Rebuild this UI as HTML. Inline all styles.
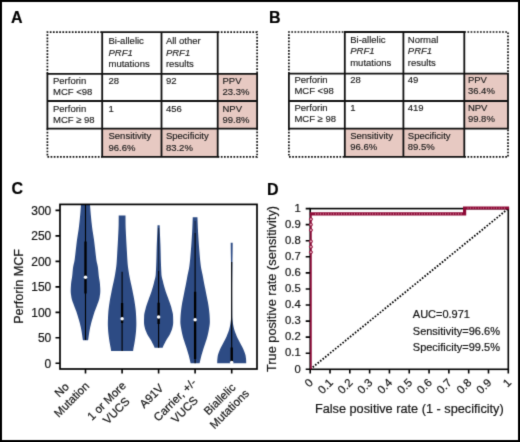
<!DOCTYPE html>
<html><head><meta charset="utf-8"><title>figure</title><style>
html,body{margin:0;padding:0;background:#fff;width:520px;height:442px;overflow:hidden;}
svg{display:block;}
text{font-family:"Liberation Sans",sans-serif;stroke:#1a1a1a;stroke-width:0.2px;}
</style></head><body>
<svg width="520" height="442" viewBox="0 0 520 442">
<defs><filter id="soft" color-interpolation-filters="sRGB" filterUnits="userSpaceOnUse" x="0" y="0" width="520" height="442"><feConvolveMatrix order="3" kernelMatrix="1 6 1 6 36 6 1 6 1" edgeMode="duplicate"/></filter></defs>
<rect x="0" y="0" width="520" height="442" fill="#fff"/>
<g filter="url(#soft)">
<rect x="0" y="0" width="520" height="442" fill="#fff"/>
<rect x="1" y="1" width="518" height="440" fill="none" stroke="#000" stroke-width="2"/>
<text x="11" y="22.6" font-size="16" font-weight="bold" fill="#000">A</text>
<text x="269" y="22.6" font-size="16" font-weight="bold" fill="#000">B</text>
<text x="11.5" y="194.3" font-size="16" font-weight="bold" fill="#000">C</text>
<text x="266.9" y="194.5" font-size="16" font-weight="bold" fill="#000">D</text>
<rect x="217.7" y="73.8" width="39.400000000000034" height="54.8" fill="#e7c9c2"/>
<rect x="102.2" y="128.6" width="115.49999999999999" height="28.30000000000001" fill="#e7c9c2"/>
<path d="M47.4 73.8 V32.1 H102.2" stroke="#111" stroke-width="1.7" stroke-dasharray="1.7 1.45" fill="none"/>
<path d="M217.7 32.1 H257.1 V73.8" stroke="#111" stroke-width="1.7" stroke-dasharray="1.7 1.45" fill="none"/>
<path d="M47.4 128.6 V156.9 H102.2" stroke="#111" stroke-width="1.7" stroke-dasharray="1.7 1.45" fill="none"/>
<path d="M217.7 156.9 H257.1 V128.6" stroke="#111" stroke-width="1.7" stroke-dasharray="1.7 1.45" fill="none"/>
<path d="M102.2 32.1 H217.7 M47.4 73.8 H257.1 M47.4 101.0 H257.1 M47.4 128.6 H257.1 M102.2 156.9 H217.7 M47.4 73.8 V128.6 M102.2 32.1 V156.9 M161.5 32.1 V156.9 M217.7 32.1 V156.9 M257.1 73.8 V128.6" stroke="#111" stroke-width="1.8" fill="none" stroke-linecap="square"/>
<text x="108.50" y="43.90" font-size="9.5" fill="#1c1c1c" style="stroke-width:0.15px">Bi-allelic</text>
<text x="108.50" y="55.50" font-size="9.5" font-style="italic" fill="#1c1c1c" style="stroke-width:0.15px">PRF1</text>
<text x="108.50" y="66.90" font-size="9.5" fill="#1c1c1c" style="stroke-width:0.15px">mutations</text>
<text x="165.90" y="43.90" font-size="9.5" fill="#1c1c1c" style="stroke-width:0.15px">All other</text>
<text x="165.90" y="55.50" font-size="9.5" font-style="italic" fill="#1c1c1c" style="stroke-width:0.15px">PRF1</text>
<text x="165.90" y="66.90" font-size="9.5" fill="#1c1c1c" style="stroke-width:0.15px">results</text>
<text x="53.00" y="83.70" font-size="9.5" fill="#1c1c1c" style="stroke-width:0.15px">Perforin</text>
<text x="53.00" y="95.00" font-size="9.5" fill="#1c1c1c" style="stroke-width:0.15px">MCF &lt;98</text>
<text x="108.50" y="83.70" font-size="9.5" fill="#1c1c1c" style="stroke-width:0.15px">28</text>
<text x="165.90" y="83.70" font-size="9.5" fill="#1c1c1c" style="stroke-width:0.15px">92</text>
<text x="222.50" y="83.70" font-size="9.5" fill="#1c1c1c" style="stroke-width:0.15px">PPV</text>
<text x="222.50" y="95.00" font-size="9.5" fill="#1c1c1c" style="stroke-width:0.15px">23.3%</text>
<text x="53.00" y="111.60" font-size="9.5" fill="#1c1c1c" style="stroke-width:0.15px">Perforin</text>
<text x="53.00" y="122.90" font-size="9.5" fill="#1c1c1c" style="stroke-width:0.15px">MCF ≥ 98</text>
<text x="108.50" y="111.60" font-size="9.5" fill="#1c1c1c" style="stroke-width:0.15px">1</text>
<text x="165.90" y="111.60" font-size="9.5" fill="#1c1c1c" style="stroke-width:0.15px">456</text>
<text x="222.50" y="111.60" font-size="9.5" fill="#1c1c1c" style="stroke-width:0.15px">NPV</text>
<text x="222.50" y="122.90" font-size="9.5" fill="#1c1c1c" style="stroke-width:0.15px">99.8%</text>
<text x="108.50" y="139.40" font-size="9.5" fill="#1c1c1c" style="stroke-width:0.15px">Sensitivity</text>
<text x="108.50" y="150.60" font-size="9.5" fill="#1c1c1c" style="stroke-width:0.15px">96.6%</text>
<text x="165.90" y="139.40" font-size="9.5" fill="#1c1c1c" style="stroke-width:0.15px">Specificity</text>
<text x="165.90" y="150.60" font-size="9.5" fill="#1c1c1c" style="stroke-width:0.15px">83.2%</text>
<rect x="464.3" y="73.7" width="43.69999999999999" height="54.999999999999986" fill="#e7c9c2"/>
<rect x="344.8" y="128.7" width="119.5" height="28.200000000000017" fill="#e7c9c2"/>
<path d="M288.9 73.7 V32.0 H344.8" stroke="#111" stroke-width="1.7" stroke-dasharray="1.7 1.45" fill="none"/>
<path d="M464.3 32.0 H508.0 V73.7" stroke="#111" stroke-width="1.7" stroke-dasharray="1.7 1.45" fill="none"/>
<path d="M288.9 128.7 V156.9 H344.8" stroke="#111" stroke-width="1.7" stroke-dasharray="1.7 1.45" fill="none"/>
<path d="M464.3 156.9 H508.0 V128.7" stroke="#111" stroke-width="1.7" stroke-dasharray="1.7 1.45" fill="none"/>
<path d="M344.8 32.0 H464.3 M288.9 73.7 H508.0 M288.9 101.0 H508.0 M288.9 128.7 H508.0 M344.8 156.9 H464.3 M288.9 73.7 V128.7 M344.8 32.0 V156.9 M403.4 32.0 V156.9 M464.3 32.0 V156.9 M508.0 73.7 V128.7" stroke="#111" stroke-width="1.8" fill="none" stroke-linecap="square"/>
<text x="350.20" y="43.10" font-size="9.5" fill="#1c1c1c" style="stroke-width:0.15px">Bi-allelic</text>
<text x="350.20" y="54.40" font-size="9.5" font-style="italic" fill="#1c1c1c" style="stroke-width:0.15px">PRF1</text>
<text x="350.20" y="65.60" font-size="9.5" fill="#1c1c1c" style="stroke-width:0.15px">mutations</text>
<text x="407.80" y="43.10" font-size="9.5" fill="#1c1c1c" style="stroke-width:0.15px">Normal</text>
<text x="407.80" y="54.40" font-size="9.5" font-style="italic" fill="#1c1c1c" style="stroke-width:0.15px">PRF1</text>
<text x="407.80" y="65.60" font-size="9.5" fill="#1c1c1c" style="stroke-width:0.15px">results</text>
<text x="294.40" y="82.90" font-size="9.5" fill="#1c1c1c" style="stroke-width:0.15px">Perforin</text>
<text x="294.40" y="94.20" font-size="9.5" fill="#1c1c1c" style="stroke-width:0.15px">MCF &lt;98</text>
<text x="350.20" y="82.90" font-size="9.5" fill="#1c1c1c" style="stroke-width:0.15px">28</text>
<text x="407.80" y="82.90" font-size="9.5" fill="#1c1c1c" style="stroke-width:0.15px">49</text>
<text x="467.90" y="82.90" font-size="9.5" fill="#1c1c1c" style="stroke-width:0.15px">PPV</text>
<text x="467.90" y="94.20" font-size="9.5" fill="#1c1c1c" style="stroke-width:0.15px">36.4%</text>
<text x="294.40" y="110.90" font-size="9.5" fill="#1c1c1c" style="stroke-width:0.15px">Perforin</text>
<text x="294.40" y="122.10" font-size="9.5" fill="#1c1c1c" style="stroke-width:0.15px">MCF ≥ 98</text>
<text x="350.20" y="110.90" font-size="9.5" fill="#1c1c1c" style="stroke-width:0.15px">1</text>
<text x="407.80" y="110.90" font-size="9.5" fill="#1c1c1c" style="stroke-width:0.15px">419</text>
<text x="467.90" y="110.90" font-size="9.5" fill="#1c1c1c" style="stroke-width:0.15px">NPV</text>
<text x="467.90" y="122.10" font-size="9.5" fill="#1c1c1c" style="stroke-width:0.15px">99.8%</text>
<text x="350.20" y="139.00" font-size="9.5" fill="#1c1c1c" style="stroke-width:0.15px">Sensitivity</text>
<text x="350.20" y="150.30" font-size="9.5" fill="#1c1c1c" style="stroke-width:0.15px">96.6%</text>
<text x="407.80" y="139.00" font-size="9.5" fill="#1c1c1c" style="stroke-width:0.15px">Specificity</text>
<text x="407.80" y="150.30" font-size="9.5" fill="#1c1c1c" style="stroke-width:0.15px">89.5%</text>
<clipPath id="cclip"><rect x="60.0" y="204.4" width="197.0" height="164.6"/></clipPath>
<g clip-path="url(#cclip)">
<path d="M81.50 196.00 L81.44 197.21 L81.37 198.42 L81.30 199.64 L81.23 200.85 L81.16 202.06 L81.08 203.27 L81.00 204.48 L80.92 205.69 L80.83 206.91 L80.74 208.12 L80.65 209.33 L80.56 210.54 L80.46 211.75 L80.35 212.96 L80.25 214.18 L80.14 215.39 L80.03 216.60 L79.91 217.81 L79.80 219.02 L79.68 220.24 L79.55 221.45 L79.42 222.66 L79.29 223.87 L79.15 225.08 L79.01 226.29 L78.86 227.51 L78.70 228.72 L78.53 229.93 L78.35 231.14 L78.17 232.35 L77.98 233.56 L77.78 234.78 L77.59 235.99 L77.40 237.20 L77.22 238.41 L77.05 239.62 L76.88 240.84 L76.73 242.05 L76.58 243.26 L76.43 244.47 L76.29 245.68 L76.15 246.89 L76.01 248.11 L75.87 249.32 L75.74 250.53 L75.60 251.74 L75.46 252.95 L75.32 254.16 L75.18 255.38 L75.04 256.59 L74.90 257.80 L74.75 259.01 L74.57 260.22 L74.34 261.44 L74.08 262.65 L73.81 263.86 L73.54 265.07 L73.28 266.28 L73.07 267.49 L72.91 268.71 L72.78 269.92 L72.66 271.13 L72.56 272.34 L72.45 273.55 L72.33 274.76 L72.20 275.98 L72.04 277.19 L71.85 278.40 L71.65 279.61 L71.45 280.82 L71.26 282.04 L71.12 283.25 L71.02 284.46 L70.93 285.67 L70.85 286.88 L70.78 288.09 L70.73 289.31 L70.70 290.52 L70.71 291.73 L70.79 292.94 L70.92 294.15 L71.09 295.36 L71.28 296.58 L71.48 297.79 L71.75 299.00 L72.11 300.21 L72.52 301.42 L72.96 302.64 L73.41 303.85 L73.83 305.06 L74.29 306.27 L74.77 307.48 L75.26 308.69 L75.73 309.91 L76.17 311.12 L76.58 312.33 L76.98 313.54 L77.37 314.75 L77.74 315.96 L78.11 317.18 L78.46 318.39 L78.82 319.60 L79.17 320.81 L79.51 322.02 L79.84 323.24 L80.14 324.45 L80.42 325.66 L80.69 326.87 L80.95 328.08 L81.19 329.29 L81.42 330.51 L81.64 331.72 L81.83 332.93 L82.01 334.14 L82.18 335.35 L82.35 336.56 L82.52 337.78 L82.71 338.99 L82.90 340.20 L88.10 340.20 L88.29 338.99 L88.48 337.78 L88.65 336.56 L88.82 335.35 L88.99 334.14 L89.17 332.93 L89.36 331.72 L89.58 330.51 L89.81 329.29 L90.05 328.08 L90.31 326.87 L90.58 325.66 L90.86 324.45 L91.16 323.24 L91.49 322.02 L91.83 320.81 L92.18 319.60 L92.54 318.39 L92.89 317.18 L93.26 315.96 L93.63 314.75 L94.02 313.54 L94.42 312.33 L94.83 311.12 L95.27 309.91 L95.74 308.69 L96.23 307.48 L96.71 306.27 L97.17 305.06 L97.59 303.85 L98.04 302.64 L98.48 301.42 L98.89 300.21 L99.25 299.00 L99.52 297.79 L99.72 296.58 L99.91 295.36 L100.08 294.15 L100.21 292.94 L100.29 291.73 L100.30 290.52 L100.27 289.31 L100.22 288.09 L100.15 286.88 L100.07 285.67 L99.98 284.46 L99.88 283.25 L99.74 282.04 L99.55 280.82 L99.35 279.61 L99.15 278.40 L98.96 277.19 L98.80 275.98 L98.67 274.76 L98.55 273.55 L98.44 272.34 L98.34 271.13 L98.22 269.92 L98.09 268.71 L97.93 267.49 L97.72 266.28 L97.46 265.07 L97.19 263.86 L96.92 262.65 L96.66 261.44 L96.43 260.22 L96.25 259.01 L96.10 257.80 L95.96 256.59 L95.82 255.38 L95.68 254.16 L95.54 252.95 L95.40 251.74 L95.26 250.53 L95.13 249.32 L94.99 248.11 L94.85 246.89 L94.71 245.68 L94.57 244.47 L94.42 243.26 L94.27 242.05 L94.12 240.84 L93.95 239.62 L93.78 238.41 L93.60 237.20 L93.41 235.99 L93.22 234.78 L93.02 233.56 L92.83 232.35 L92.65 231.14 L92.47 229.93 L92.30 228.72 L92.14 227.51 L91.99 226.29 L91.85 225.08 L91.71 223.87 L91.58 222.66 L91.45 221.45 L91.32 220.24 L91.20 219.02 L91.09 217.81 L90.97 216.60 L90.86 215.39 L90.75 214.18 L90.65 212.96 L90.54 211.75 L90.44 210.54 L90.35 209.33 L90.26 208.12 L90.17 206.91 L90.08 205.69 L90.00 204.48 L89.92 203.27 L89.84 202.06 L89.77 200.85 L89.70 199.64 L89.63 198.42 L89.56 197.21 L89.50 196.00 Z" fill="#2d4b84"/>
<line x1="85.5" y1="204.4" x2="85.5" y2="340" stroke="#000" stroke-width="1.1"/>
<line x1="85.5" y1="241.4" x2="85.5" y2="293.5" stroke="#000" stroke-width="2.3"/>
<circle cx="85.5" cy="277.2" r="1.75" fill="#fff"/>
<path d="M118.70 215.40 L118.70 216.54 L118.70 217.68 L118.69 218.82 L118.68 219.96 L118.67 221.10 L118.66 222.24 L118.65 223.38 L118.64 224.52 L118.61 225.66 L118.58 226.79 L118.54 227.93 L118.50 229.07 L118.45 230.21 L118.39 231.35 L118.34 232.49 L118.28 233.63 L118.22 234.77 L118.16 235.91 L118.11 237.05 L118.05 238.19 L118.00 239.33 L117.94 240.47 L117.88 241.61 L117.81 242.75 L117.75 243.89 L117.68 245.03 L117.62 246.17 L117.55 247.31 L117.48 248.45 L117.42 249.58 L117.35 250.72 L117.28 251.86 L117.22 253.00 L117.16 254.14 L117.10 255.28 L117.04 256.42 L116.97 257.56 L116.90 258.70 L116.83 259.84 L116.76 260.98 L116.68 262.12 L116.59 263.26 L116.49 264.40 L116.38 265.54 L116.24 266.68 L116.09 267.82 L115.93 268.96 L115.76 270.10 L115.59 271.24 L115.41 272.37 L115.23 273.51 L115.03 274.65 L114.83 275.79 L114.62 276.93 L114.40 278.07 L114.18 279.21 L113.93 280.35 L113.68 281.49 L113.42 282.63 L113.16 283.77 L112.91 284.91 L112.66 286.05 L112.42 287.19 L112.19 288.33 L111.95 289.47 L111.72 290.61 L111.49 291.75 L111.26 292.89 L111.04 294.03 L110.81 295.16 L110.59 296.30 L110.38 297.44 L110.17 298.58 L109.98 299.72 L109.78 300.86 L109.60 302.00 L109.42 303.14 L109.24 304.28 L109.09 305.42 L108.94 306.56 L108.79 307.70 L108.66 308.84 L108.53 309.98 L108.41 311.12 L108.32 312.26 L108.24 313.40 L108.17 314.54 L108.10 315.68 L108.05 316.82 L108.00 317.95 L107.96 319.09 L107.92 320.23 L107.89 321.37 L107.86 322.51 L107.85 323.65 L107.86 324.79 L107.89 325.93 L107.94 327.07 L108.00 328.21 L108.06 329.35 L108.13 330.49 L108.22 331.63 L108.32 332.77 L108.45 333.91 L108.58 335.05 L108.72 336.19 L108.87 337.33 L109.02 338.47 L109.18 339.61 L109.36 340.74 L109.55 341.88 L109.74 343.02 L109.93 344.16 L110.14 345.30 L110.37 346.44 L110.59 347.58 L110.79 348.72 L110.96 349.86 L111.10 351.00 L133.10 351.00 L133.24 349.86 L133.41 348.72 L133.61 347.58 L133.83 346.44 L134.06 345.30 L134.27 344.16 L134.46 343.02 L134.65 341.88 L134.84 340.74 L135.02 339.61 L135.18 338.47 L135.33 337.33 L135.48 336.19 L135.62 335.05 L135.75 333.91 L135.88 332.77 L135.98 331.63 L136.07 330.49 L136.14 329.35 L136.20 328.21 L136.26 327.07 L136.31 325.93 L136.34 324.79 L136.35 323.65 L136.34 322.51 L136.31 321.37 L136.28 320.23 L136.24 319.09 L136.20 317.95 L136.15 316.82 L136.10 315.68 L136.03 314.54 L135.96 313.40 L135.88 312.26 L135.79 311.12 L135.67 309.98 L135.54 308.84 L135.41 307.70 L135.26 306.56 L135.11 305.42 L134.96 304.28 L134.78 303.14 L134.60 302.00 L134.42 300.86 L134.22 299.72 L134.03 298.58 L133.82 297.44 L133.61 296.30 L133.39 295.16 L133.16 294.03 L132.94 292.89 L132.71 291.75 L132.48 290.61 L132.25 289.47 L132.01 288.33 L131.78 287.19 L131.54 286.05 L131.29 284.91 L131.04 283.77 L130.78 282.63 L130.52 281.49 L130.27 280.35 L130.02 279.21 L129.80 278.07 L129.58 276.93 L129.37 275.79 L129.17 274.65 L128.97 273.51 L128.79 272.37 L128.61 271.24 L128.44 270.10 L128.27 268.96 L128.11 267.82 L127.96 266.68 L127.82 265.54 L127.71 264.40 L127.61 263.26 L127.52 262.12 L127.44 260.98 L127.37 259.84 L127.30 258.70 L127.23 257.56 L127.16 256.42 L127.10 255.28 L127.04 254.14 L126.98 253.00 L126.92 251.86 L126.85 250.72 L126.78 249.58 L126.72 248.45 L126.65 247.31 L126.58 246.17 L126.52 245.03 L126.45 243.89 L126.39 242.75 L126.32 241.61 L126.26 240.47 L126.20 239.33 L126.15 238.19 L126.09 237.05 L126.04 235.91 L125.98 234.77 L125.92 233.63 L125.86 232.49 L125.81 231.35 L125.75 230.21 L125.70 229.07 L125.66 227.93 L125.62 226.79 L125.59 225.66 L125.56 224.52 L125.55 223.38 L125.54 222.24 L125.53 221.10 L125.52 219.96 L125.51 218.82 L125.50 217.68 L125.50 216.54 L125.50 215.40 Z" fill="#2d4b84"/>
<line x1="122.1" y1="271.8" x2="122.1" y2="351" stroke="#000" stroke-width="1.1"/>
<line x1="122.1" y1="303" x2="122.1" y2="323" stroke="#000" stroke-width="2.3"/>
<circle cx="122.1" cy="318.7" r="1.75" fill="#fff"/>
<path d="M157.55 225.20 L157.51 226.23 L157.48 227.26 L157.44 228.29 L157.41 229.32 L157.37 230.35 L157.33 231.38 L157.29 232.41 L157.26 233.44 L157.22 234.47 L157.17 235.50 L157.13 236.53 L157.09 237.56 L157.04 238.59 L157.00 239.62 L156.95 240.65 L156.91 241.68 L156.87 242.71 L156.82 243.74 L156.78 244.77 L156.75 245.81 L156.71 246.84 L156.68 247.87 L156.65 248.90 L156.62 249.93 L156.60 250.96 L156.57 251.99 L156.55 253.02 L156.52 254.05 L156.50 255.08 L156.48 256.11 L156.45 257.14 L156.42 258.17 L156.40 259.20 L156.36 260.23 L156.33 261.26 L156.30 262.29 L156.26 263.32 L156.22 264.35 L156.18 265.38 L156.14 266.41 L156.09 267.44 L156.05 268.47 L156.00 269.50 L155.95 270.53 L155.90 271.56 L155.85 272.59 L155.80 273.62 L155.73 274.65 L155.62 275.68 L155.46 276.71 L155.24 277.74 L154.99 278.77 L154.72 279.80 L154.44 280.83 L154.18 281.86 L153.93 282.89 L153.68 283.92 L153.41 284.95 L153.14 285.98 L152.86 287.02 L152.56 288.05 L152.26 289.08 L151.93 290.11 L151.59 291.14 L151.24 292.17 L150.88 293.20 L150.52 294.23 L150.15 295.26 L149.78 296.29 L149.40 297.32 L149.01 298.35 L148.62 299.38 L148.23 300.41 L147.86 301.44 L147.51 302.47 L147.16 303.50 L146.82 304.53 L146.48 305.56 L146.16 306.59 L145.86 307.62 L145.59 308.65 L145.33 309.68 L145.06 310.71 L144.80 311.74 L144.56 312.77 L144.36 313.80 L144.21 314.83 L144.14 315.86 L144.11 316.89 L144.07 317.92 L144.04 318.95 L144.02 319.98 L144.01 321.01 L144.00 322.04 L144.01 323.07 L144.10 324.10 L144.26 325.13 L144.46 326.16 L144.69 327.19 L144.93 328.23 L145.20 329.26 L145.55 330.29 L145.96 331.32 L146.42 332.35 L146.90 333.38 L147.40 334.41 L147.96 335.44 L148.58 336.47 L149.24 337.50 L149.89 338.53 L150.52 339.56 L151.10 340.59 L151.67 341.62 L152.23 342.65 L152.78 343.68 L153.30 344.71 L153.79 345.74 L154.23 346.77 L154.60 347.80 L162.60 347.80 L162.97 346.77 L163.41 345.74 L163.90 344.71 L164.42 343.68 L164.97 342.65 L165.53 341.62 L166.10 340.59 L166.68 339.56 L167.31 338.53 L167.96 337.50 L168.62 336.47 L169.24 335.44 L169.80 334.41 L170.30 333.38 L170.78 332.35 L171.24 331.32 L171.65 330.29 L172.00 329.26 L172.27 328.23 L172.51 327.19 L172.74 326.16 L172.94 325.13 L173.10 324.10 L173.19 323.07 L173.20 322.04 L173.19 321.01 L173.18 319.98 L173.16 318.95 L173.13 317.92 L173.09 316.89 L173.06 315.86 L172.99 314.83 L172.84 313.80 L172.64 312.77 L172.40 311.74 L172.14 310.71 L171.87 309.68 L171.61 308.65 L171.34 307.62 L171.04 306.59 L170.72 305.56 L170.38 304.53 L170.04 303.50 L169.69 302.47 L169.34 301.44 L168.97 300.41 L168.58 299.38 L168.19 298.35 L167.80 297.32 L167.42 296.29 L167.05 295.26 L166.68 294.23 L166.32 293.20 L165.96 292.17 L165.61 291.14 L165.27 290.11 L164.94 289.08 L164.64 288.05 L164.34 287.02 L164.06 285.98 L163.79 284.95 L163.52 283.92 L163.27 282.89 L163.02 281.86 L162.76 280.83 L162.48 279.80 L162.21 278.77 L161.96 277.74 L161.74 276.71 L161.58 275.68 L161.47 274.65 L161.40 273.62 L161.35 272.59 L161.30 271.56 L161.25 270.53 L161.20 269.50 L161.15 268.47 L161.11 267.44 L161.06 266.41 L161.02 265.38 L160.98 264.35 L160.94 263.32 L160.90 262.29 L160.87 261.26 L160.84 260.23 L160.80 259.20 L160.78 258.17 L160.75 257.14 L160.72 256.11 L160.70 255.08 L160.68 254.05 L160.65 253.02 L160.63 251.99 L160.60 250.96 L160.58 249.93 L160.55 248.90 L160.52 247.87 L160.49 246.84 L160.45 245.81 L160.42 244.77 L160.38 243.74 L160.33 242.71 L160.29 241.68 L160.25 240.65 L160.20 239.62 L160.16 238.59 L160.11 237.56 L160.07 236.53 L160.03 235.50 L159.98 234.47 L159.94 233.44 L159.91 232.41 L159.87 231.38 L159.83 230.35 L159.79 229.32 L159.76 228.29 L159.72 227.26 L159.69 226.23 L159.65 225.20 Z" fill="#2d4b84"/>
<line x1="158.6" y1="271" x2="158.6" y2="347.8" stroke="#000" stroke-width="1.1"/>
<line x1="158.6" y1="228" x2="158.6" y2="271" stroke="#000" stroke-opacity="0.5" stroke-width="1.0"/>
<line x1="158.6" y1="302.8" x2="158.6" y2="324" stroke="#000" stroke-width="2.3"/>
<circle cx="158.6" cy="317.1" r="1.75" fill="#fff"/>
<path d="M192.75 217.20 L192.71 218.43 L192.67 219.65 L192.63 220.88 L192.59 222.11 L192.54 223.33 L192.49 224.56 L192.44 225.79 L192.39 227.02 L192.33 228.24 L192.27 229.47 L192.20 230.70 L192.14 231.92 L192.07 233.15 L192.00 234.38 L191.92 235.60 L191.85 236.83 L191.77 238.06 L191.69 239.28 L191.62 240.51 L191.53 241.74 L191.45 242.96 L191.36 244.19 L191.28 245.42 L191.18 246.65 L191.09 247.87 L191.00 249.10 L190.90 250.33 L190.80 251.55 L190.69 252.78 L190.59 254.01 L190.49 255.23 L190.38 256.46 L190.28 257.69 L190.17 258.91 L190.05 260.14 L189.93 261.37 L189.80 262.59 L189.66 263.82 L189.51 265.05 L189.35 266.28 L189.16 267.50 L188.94 268.73 L188.69 269.96 L188.42 271.18 L188.15 272.41 L187.88 273.64 L187.64 274.86 L187.41 276.09 L187.18 277.32 L186.96 278.54 L186.74 279.77 L186.51 281.00 L186.28 282.23 L186.04 283.45 L185.80 284.68 L185.55 285.91 L185.30 287.13 L185.06 288.36 L184.81 289.59 L184.57 290.81 L184.33 292.04 L184.08 293.27 L183.84 294.49 L183.60 295.72 L183.35 296.95 L183.09 298.17 L182.84 299.40 L182.60 300.63 L182.38 301.86 L182.16 303.08 L181.95 304.31 L181.75 305.54 L181.56 306.76 L181.39 307.99 L181.24 309.22 L181.08 310.44 L180.94 311.67 L180.81 312.90 L180.70 314.12 L180.61 315.35 L180.54 316.58 L180.47 317.81 L180.42 319.03 L180.38 320.26 L180.35 321.49 L180.37 322.71 L180.46 323.94 L180.61 325.17 L180.79 326.39 L180.99 327.62 L181.19 328.85 L181.40 330.07 L181.63 331.30 L181.89 332.53 L182.16 333.75 L182.45 334.98 L182.75 336.21 L183.09 337.44 L183.45 338.66 L183.82 339.89 L184.21 341.12 L184.60 342.34 L185.00 343.57 L185.42 344.80 L185.85 346.02 L186.27 347.25 L186.68 348.48 L187.07 349.70 L187.44 350.93 L187.81 352.16 L188.16 353.38 L188.51 354.61 L188.84 355.84 L189.15 357.07 L189.46 358.29 L189.75 359.52 L190.04 360.75 L190.33 361.97 L190.60 363.20 L199.60 363.20 L199.87 361.97 L200.16 360.75 L200.45 359.52 L200.74 358.29 L201.05 357.07 L201.36 355.84 L201.69 354.61 L202.04 353.38 L202.39 352.16 L202.76 350.93 L203.13 349.70 L203.52 348.48 L203.93 347.25 L204.35 346.02 L204.78 344.80 L205.20 343.57 L205.60 342.34 L205.99 341.12 L206.38 339.89 L206.75 338.66 L207.11 337.44 L207.45 336.21 L207.75 334.98 L208.04 333.75 L208.31 332.53 L208.57 331.30 L208.80 330.07 L209.01 328.85 L209.21 327.62 L209.41 326.39 L209.59 325.17 L209.74 323.94 L209.83 322.71 L209.85 321.49 L209.82 320.26 L209.78 319.03 L209.73 317.81 L209.66 316.58 L209.59 315.35 L209.50 314.12 L209.39 312.90 L209.26 311.67 L209.12 310.44 L208.96 309.22 L208.81 307.99 L208.64 306.76 L208.45 305.54 L208.25 304.31 L208.04 303.08 L207.82 301.86 L207.60 300.63 L207.36 299.40 L207.11 298.17 L206.85 296.95 L206.60 295.72 L206.36 294.49 L206.12 293.27 L205.87 292.04 L205.63 290.81 L205.39 289.59 L205.14 288.36 L204.90 287.13 L204.65 285.91 L204.40 284.68 L204.16 283.45 L203.92 282.23 L203.69 281.00 L203.46 279.77 L203.24 278.54 L203.02 277.32 L202.79 276.09 L202.56 274.86 L202.32 273.64 L202.05 272.41 L201.78 271.18 L201.51 269.96 L201.26 268.73 L201.04 267.50 L200.85 266.28 L200.69 265.05 L200.54 263.82 L200.40 262.59 L200.27 261.37 L200.15 260.14 L200.03 258.91 L199.92 257.69 L199.82 256.46 L199.71 255.23 L199.61 254.01 L199.51 252.78 L199.40 251.55 L199.30 250.33 L199.20 249.10 L199.11 247.87 L199.02 246.65 L198.92 245.42 L198.84 244.19 L198.75 242.96 L198.67 241.74 L198.58 240.51 L198.51 239.28 L198.43 238.06 L198.35 236.83 L198.28 235.60 L198.20 234.38 L198.13 233.15 L198.06 231.92 L198.00 230.70 L197.93 229.47 L197.87 228.24 L197.81 227.02 L197.76 225.79 L197.71 224.56 L197.66 223.33 L197.61 222.11 L197.57 220.88 L197.53 219.65 L197.49 218.43 L197.45 217.20 Z" fill="#2d4b84"/>
<line x1="195.1" y1="233" x2="195.1" y2="363.2" stroke="#000" stroke-width="1.1"/>
<line x1="195.1" y1="221" x2="195.1" y2="233" stroke="#000" stroke-opacity="0.5" stroke-width="1.0"/>
<line x1="195.1" y1="291.8" x2="195.1" y2="359" stroke="#000" stroke-width="2.3"/>
<circle cx="195.1" cy="319.7" r="1.75" fill="#fff"/>
<path d="M230.70 242.80 L230.71 243.81 L230.72 244.82 L230.73 245.84 L230.74 246.85 L230.75 247.86 L230.76 248.87 L230.77 249.88 L230.79 250.89 L230.80 251.91 L230.81 252.92 L230.83 253.93 L230.85 254.94 L230.87 255.95 L230.89 256.96 L230.91 257.98 L230.93 258.99 L230.95 260.00 L230.97 261.01 L230.99 262.02 L231.00 263.04 L231.02 264.05 L231.03 265.06 L231.05 266.07 L231.06 267.08 L231.08 268.09 L231.09 269.11 L231.11 270.12 L231.12 271.13 L231.14 272.14 L231.15 273.15 L231.17 274.16 L231.18 275.18 L231.19 276.19 L231.21 277.20 L231.22 278.21 L231.23 279.22 L231.24 280.24 L231.25 281.25 L231.26 282.26 L231.27 283.27 L231.28 284.28 L231.29 285.29 L231.29 286.31 L231.30 287.32 L231.30 288.33 L231.30 289.34 L231.30 290.35 L231.30 291.36 L231.30 292.38 L231.30 293.39 L231.30 294.40 L231.30 295.41 L231.30 296.42 L231.29 297.44 L231.29 298.45 L231.29 299.46 L231.29 300.47 L231.28 301.48 L231.28 302.49 L231.28 303.51 L231.27 304.52 L231.27 305.53 L231.26 306.54 L231.26 307.55 L231.25 308.56 L231.25 309.58 L231.24 310.59 L231.23 311.60 L231.23 312.61 L231.22 313.62 L231.21 314.64 L231.20 315.65 L231.18 316.66 L231.13 317.67 L231.04 318.68 L230.93 319.69 L230.81 320.71 L230.68 321.72 L230.55 322.73 L230.40 323.74 L230.23 324.75 L230.04 325.76 L229.83 326.78 L229.60 327.79 L229.35 328.80 L229.09 329.81 L228.78 330.82 L228.43 331.84 L228.05 332.85 L227.64 333.86 L227.22 334.87 L226.79 335.88 L226.34 336.89 L225.87 337.91 L225.36 338.92 L224.84 339.93 L224.31 340.94 L223.78 341.95 L223.27 342.96 L222.75 343.98 L222.21 344.99 L221.67 346.00 L221.14 347.01 L220.63 348.02 L220.17 349.04 L219.75 350.05 L219.35 351.06 L218.95 352.07 L218.58 353.08 L218.24 354.09 L217.95 355.11 L217.73 356.12 L217.58 357.13 L217.45 358.14 L217.34 359.15 L217.27 360.16 L217.24 361.18 L217.21 362.19 L217.20 363.20 L246.20 363.20 L246.19 362.19 L246.16 361.18 L246.13 360.16 L246.06 359.15 L245.95 358.14 L245.82 357.13 L245.67 356.12 L245.45 355.11 L245.16 354.09 L244.82 353.08 L244.45 352.07 L244.05 351.06 L243.65 350.05 L243.23 349.04 L242.77 348.02 L242.26 347.01 L241.73 346.00 L241.19 344.99 L240.65 343.98 L240.13 342.96 L239.62 341.95 L239.09 340.94 L238.56 339.93 L238.04 338.92 L237.53 337.91 L237.06 336.89 L236.61 335.88 L236.18 334.87 L235.76 333.86 L235.35 332.85 L234.97 331.84 L234.62 330.82 L234.31 329.81 L234.05 328.80 L233.80 327.79 L233.57 326.78 L233.36 325.76 L233.17 324.75 L233.00 323.74 L232.85 322.73 L232.72 321.72 L232.59 320.71 L232.47 319.69 L232.36 318.68 L232.27 317.67 L232.22 316.66 L232.20 315.65 L232.19 314.64 L232.18 313.62 L232.17 312.61 L232.17 311.60 L232.16 310.59 L232.15 309.58 L232.15 308.56 L232.14 307.55 L232.14 306.54 L232.13 305.53 L232.13 304.52 L232.12 303.51 L232.12 302.49 L232.12 301.48 L232.11 300.47 L232.11 299.46 L232.11 298.45 L232.11 297.44 L232.10 296.42 L232.10 295.41 L232.10 294.40 L232.10 293.39 L232.10 292.38 L232.10 291.36 L232.10 290.35 L232.10 289.34 L232.10 288.33 L232.10 287.32 L232.11 286.31 L232.11 285.29 L232.12 284.28 L232.13 283.27 L232.14 282.26 L232.15 281.25 L232.16 280.24 L232.17 279.22 L232.18 278.21 L232.19 277.20 L232.21 276.19 L232.22 275.18 L232.23 274.16 L232.25 273.15 L232.26 272.14 L232.28 271.13 L232.29 270.12 L232.31 269.11 L232.32 268.09 L232.34 267.08 L232.35 266.07 L232.37 265.06 L232.38 264.05 L232.40 263.04 L232.41 262.02 L232.43 261.01 L232.45 260.00 L232.47 258.99 L232.49 257.98 L232.51 256.96 L232.53 255.95 L232.55 254.94 L232.57 253.93 L232.59 252.92 L232.60 251.91 L232.61 250.89 L232.63 249.88 L232.64 248.87 L232.65 247.86 L232.66 246.85 L232.67 245.84 L232.68 244.82 L232.69 243.81 L232.70 242.80 Z" fill="#2d4b84"/>
<line x1="231.7" y1="262" x2="231.7" y2="363" stroke="#000" stroke-width="1.1"/>
<line x1="231.7" y1="347.5" x2="231.7" y2="363" stroke="#000" stroke-width="2.3"/>
<circle cx="231.7" cy="362.6" r="1.75" fill="#fff"/>
</g>
<rect x="60.0" y="204.4" width="197.0" height="164.6" fill="none" stroke="#000" stroke-width="1.7"/>
<text x="51.30" y="367.80" font-size="12.0" text-anchor="end" fill="#111">0</text>
<text x="51.30" y="342.32" font-size="12.0" text-anchor="end" fill="#111">50</text>
<text x="51.30" y="316.83" font-size="12.0" text-anchor="end" fill="#111">100</text>
<text x="51.30" y="291.35" font-size="12.0" text-anchor="end" fill="#111">150</text>
<text x="51.30" y="265.87" font-size="12.0" text-anchor="end" fill="#111">200</text>
<text x="51.30" y="240.38" font-size="12.0" text-anchor="end" fill="#111">250</text>
<text x="51.30" y="214.90" font-size="12.0" text-anchor="end" fill="#111">300</text>
<path d="M55.5 363.30 H60.0 M55.5 337.82 H60.0 M55.5 312.33 H60.0 M55.5 286.85 H60.0 M55.5 261.37 H60.0 M55.5 235.88 H60.0 M55.5 210.40 H60.0" stroke="#000" stroke-width="1.6"/>
<path d="M85.5 369.0 V373.5 M122.1 369.0 V373.5 M158.6 369.0 V373.5 M195.1 369.0 V373.5 M231.7 369.0 V373.5" stroke="#000" stroke-width="1.6"/>
<text transform="translate(22.9,286.4) rotate(-90) scale(0.935,1)" font-size="13.5" text-anchor="middle" fill="#111">Perforin MCF</text>
<g transform="translate(66.75,394.75) rotate(-45)"><text x="0" y="-3.10" font-size="11.5" text-anchor="middle" fill="#111">No</text><text x="0" y="10.70" font-size="11.5" text-anchor="middle" fill="#111">Mutation</text></g>
<g transform="translate(111.50,405.90) rotate(-45)"><text x="0" y="-3.10" font-size="11.5" text-anchor="middle" fill="#111">1 or More</text><text x="0" y="10.70" font-size="11.5" text-anchor="middle" fill="#111">VUCS</text></g>
<g transform="translate(151.60,396.10) rotate(-45)"><text x="0" y="3.80" font-size="11.5" text-anchor="middle" fill="#111">A91V</text></g>
<g transform="translate(179.80,404.80) rotate(-45)"><text x="0" y="-3.10" font-size="11.5" text-anchor="middle" fill="#111">Carrier, +/-</text><text x="0" y="10.70" font-size="11.5" text-anchor="middle" fill="#111">VUCS</text></g>
<g transform="translate(224.60,404.20) rotate(-45)"><text x="0" y="-3.10" font-size="11.5" text-anchor="middle" fill="#111">Biallelic</text><text x="0" y="10.70" font-size="11.5" text-anchor="middle" fill="#111">Mutations</text></g>
<rect x="310.2" y="208.6" width="198.10000000000002" height="160.70000000000002" fill="none" stroke="#000" stroke-width="1.6"/>
<line x1="310.2" y1="369.3" x2="508.3" y2="208.6" stroke="#000" stroke-width="1.8" stroke-dasharray="1.6 1.6"/>
<text x="300.70" y="372.50" font-size="11.3" text-anchor="end" fill="#111">0</text>
<text x="300.70" y="356.43" font-size="11.3" text-anchor="end" fill="#111">0.1</text>
<text x="300.70" y="340.36" font-size="11.3" text-anchor="end" fill="#111">0.2</text>
<text x="300.70" y="324.29" font-size="11.3" text-anchor="end" fill="#111">0.3</text>
<text x="300.70" y="308.22" font-size="11.3" text-anchor="end" fill="#111">0.4</text>
<text x="300.70" y="292.15" font-size="11.3" text-anchor="end" fill="#111">0.5</text>
<text x="300.70" y="276.08" font-size="11.3" text-anchor="end" fill="#111">0.6</text>
<text x="300.70" y="260.01" font-size="11.3" text-anchor="end" fill="#111">0.7</text>
<text x="300.70" y="243.94" font-size="11.3" text-anchor="end" fill="#111">0.8</text>
<text x="300.70" y="227.87" font-size="11.3" text-anchor="end" fill="#111">0.9</text>
<text x="300.70" y="211.80" font-size="11.3" text-anchor="end" fill="#111">1</text>
<path d="M305.7 369.30 H310.2 M310.20 369.3 V373.6 M305.7 353.23 H310.2 M330.01 369.3 V373.6 M305.7 337.16 H310.2 M349.82 369.3 V373.6 M305.7 321.09 H310.2 M369.63 369.3 V373.6 M305.7 305.02 H310.2 M389.44 369.3 V373.6 M305.7 288.95 H310.2 M409.25 369.3 V373.6 M305.7 272.88 H310.2 M429.06 369.3 V373.6 M305.7 256.81 H310.2 M448.87 369.3 V373.6 M305.7 240.74 H310.2 M468.68 369.3 V373.6 M305.7 224.67 H310.2 M488.49 369.3 V373.6 M305.7 208.60 H310.2 M508.30 369.3 V373.6" stroke="#000" stroke-width="1.6"/>
<text transform="translate(313.80,383.30) rotate(-45)" font-size="11.3" text-anchor="end" fill="#111">0</text>
<text transform="translate(333.61,383.30) rotate(-45)" font-size="11.3" text-anchor="end" fill="#111">0.1</text>
<text transform="translate(353.42,383.30) rotate(-45)" font-size="11.3" text-anchor="end" fill="#111">0.2</text>
<text transform="translate(373.23,383.30) rotate(-45)" font-size="11.3" text-anchor="end" fill="#111">0.3</text>
<text transform="translate(393.04,383.30) rotate(-45)" font-size="11.3" text-anchor="end" fill="#111">0.4</text>
<text transform="translate(412.85,383.30) rotate(-45)" font-size="11.3" text-anchor="end" fill="#111">0.5</text>
<text transform="translate(432.66,383.30) rotate(-45)" font-size="11.3" text-anchor="end" fill="#111">0.6</text>
<text transform="translate(452.47,383.30) rotate(-45)" font-size="11.3" text-anchor="end" fill="#111">0.7</text>
<text transform="translate(472.28,383.30) rotate(-45)" font-size="11.3" text-anchor="end" fill="#111">0.8</text>
<text transform="translate(492.09,383.30) rotate(-45)" font-size="11.3" text-anchor="end" fill="#111">0.9</text>
<text transform="translate(511.90,383.30) rotate(-45)" font-size="11.3" text-anchor="end" fill="#111">1</text>
<path d="M310.9 369.3 V213.9" fill="none" stroke="#8e0a37" stroke-width="1.7"/>
<path d="M309.7 213.9 H464.6 V208.0 H509.1" fill="none" stroke="#8e0a37" stroke-width="3.2"/>
<circle cx="310.9" cy="219.2" r="1.55" fill="#dc9aad" stroke="#8e0a37" stroke-width="0.9"/><circle cx="310.9" cy="224.6" r="1.55" fill="#dc9aad" stroke="#8e0a37" stroke-width="0.9"/><circle cx="310.9" cy="230.1" r="1.55" fill="#dc9aad" stroke="#8e0a37" stroke-width="0.9"/><circle cx="310.9" cy="241.4" r="1.55" fill="#dc9aad" stroke="#8e0a37" stroke-width="0.9"/><circle cx="310.9" cy="246.8" r="1.55" fill="#dc9aad" stroke="#8e0a37" stroke-width="0.9"/><circle cx="310.9" cy="252.2" r="1.55" fill="#dc9aad" stroke="#8e0a37" stroke-width="0.9"/><circle cx="315.5" cy="213.9" r="0.6" fill="#d98fa2"/><circle cx="318.1" cy="213.9" r="0.6" fill="#d98fa2"/><circle cx="320.7" cy="213.9" r="0.6" fill="#d98fa2"/><circle cx="323.3" cy="213.9" r="0.6" fill="#d98fa2"/><circle cx="325.9" cy="213.9" r="0.6" fill="#d98fa2"/><circle cx="328.5" cy="213.9" r="0.6" fill="#d98fa2"/><circle cx="331.1" cy="213.9" r="0.6" fill="#d98fa2"/><circle cx="333.7" cy="213.9" r="0.6" fill="#d98fa2"/><circle cx="336.3" cy="213.9" r="0.6" fill="#d98fa2"/><circle cx="338.9" cy="213.9" r="0.6" fill="#d98fa2"/><circle cx="341.5" cy="213.9" r="0.6" fill="#d98fa2"/><circle cx="344.1" cy="213.9" r="0.6" fill="#d98fa2"/><circle cx="346.7" cy="213.9" r="0.6" fill="#d98fa2"/><circle cx="349.3" cy="213.9" r="0.6" fill="#d98fa2"/><circle cx="351.9" cy="213.9" r="0.6" fill="#d98fa2"/><circle cx="354.5" cy="213.9" r="0.6" fill="#d98fa2"/><circle cx="357.1" cy="213.9" r="0.6" fill="#d98fa2"/><circle cx="359.7" cy="213.9" r="0.6" fill="#d98fa2"/><circle cx="362.3" cy="213.9" r="0.6" fill="#d98fa2"/><circle cx="364.9" cy="213.9" r="0.6" fill="#d98fa2"/><circle cx="367.5" cy="213.9" r="0.6" fill="#d98fa2"/><circle cx="370.1" cy="213.9" r="0.6" fill="#d98fa2"/><circle cx="372.7" cy="213.9" r="0.6" fill="#d98fa2"/><circle cx="375.3" cy="213.9" r="0.6" fill="#d98fa2"/><circle cx="377.9" cy="213.9" r="0.6" fill="#d98fa2"/><circle cx="380.5" cy="213.9" r="0.6" fill="#d98fa2"/><circle cx="383.1" cy="213.9" r="0.6" fill="#d98fa2"/><circle cx="385.7" cy="213.9" r="0.6" fill="#d98fa2"/><circle cx="388.3" cy="213.9" r="0.6" fill="#d98fa2"/><circle cx="390.9" cy="213.9" r="0.6" fill="#d98fa2"/><circle cx="393.5" cy="213.9" r="0.6" fill="#d98fa2"/><circle cx="396.1" cy="213.9" r="0.6" fill="#d98fa2"/><circle cx="398.7" cy="213.9" r="0.6" fill="#d98fa2"/><circle cx="401.3" cy="213.9" r="0.6" fill="#d98fa2"/><circle cx="403.9" cy="213.9" r="0.6" fill="#d98fa2"/><circle cx="406.5" cy="213.9" r="0.6" fill="#d98fa2"/><circle cx="409.1" cy="213.9" r="0.6" fill="#d98fa2"/><circle cx="411.7" cy="213.9" r="0.6" fill="#d98fa2"/><circle cx="414.3" cy="213.9" r="0.6" fill="#d98fa2"/><circle cx="416.9" cy="213.9" r="0.6" fill="#d98fa2"/><circle cx="419.5" cy="213.9" r="0.6" fill="#d98fa2"/><circle cx="422.1" cy="213.9" r="0.6" fill="#d98fa2"/><circle cx="424.7" cy="213.9" r="0.6" fill="#d98fa2"/><circle cx="427.3" cy="213.9" r="0.6" fill="#d98fa2"/><circle cx="429.9" cy="213.9" r="0.6" fill="#d98fa2"/><circle cx="432.5" cy="213.9" r="0.6" fill="#d98fa2"/><circle cx="435.1" cy="213.9" r="0.6" fill="#d98fa2"/><circle cx="437.7" cy="213.9" r="0.6" fill="#d98fa2"/><circle cx="440.3" cy="213.9" r="0.6" fill="#d98fa2"/><circle cx="442.9" cy="213.9" r="0.6" fill="#d98fa2"/><circle cx="445.5" cy="213.9" r="0.6" fill="#d98fa2"/><circle cx="448.1" cy="213.9" r="0.6" fill="#d98fa2"/><circle cx="450.7" cy="213.9" r="0.6" fill="#d98fa2"/><circle cx="453.3" cy="213.9" r="0.6" fill="#d98fa2"/><circle cx="455.9" cy="213.9" r="0.6" fill="#d98fa2"/><circle cx="458.5" cy="213.9" r="0.6" fill="#d98fa2"/><circle cx="461.1" cy="213.9" r="0.6" fill="#d98fa2"/><circle cx="468.0" cy="208.0" r="0.55" fill="#d98fa2"/><circle cx="470.6" cy="208.0" r="0.55" fill="#d98fa2"/><circle cx="473.2" cy="208.0" r="0.55" fill="#d98fa2"/><circle cx="475.8" cy="208.0" r="0.55" fill="#d98fa2"/><circle cx="478.4" cy="208.0" r="0.55" fill="#d98fa2"/><circle cx="481.0" cy="208.0" r="0.55" fill="#d98fa2"/><circle cx="483.6" cy="208.0" r="0.55" fill="#d98fa2"/><circle cx="486.2" cy="208.0" r="0.55" fill="#d98fa2"/><circle cx="488.8" cy="208.0" r="0.55" fill="#d98fa2"/><circle cx="491.4" cy="208.0" r="0.55" fill="#d98fa2"/><circle cx="494.0" cy="208.0" r="0.55" fill="#d98fa2"/><circle cx="496.6" cy="208.0" r="0.55" fill="#d98fa2"/><circle cx="499.2" cy="208.0" r="0.55" fill="#d98fa2"/><circle cx="501.8" cy="208.0" r="0.55" fill="#d98fa2"/><circle cx="504.4" cy="208.0" r="0.55" fill="#d98fa2"/>
<text transform="translate(275.6,289.0) rotate(-90) scale(0.95,1)" font-size="13.5" text-anchor="middle" fill="#111">True positive rate (sensitivity)</text>
<text transform="translate(409.3,413.2) scale(0.944,1)" font-size="13.5" text-anchor="middle" fill="#111">False positive rate (1 - specificity)</text>
<text x="412.80" y="318.40" font-size="11.0" fill="#111">AUC=0.971</text>
<text x="412.80" y="334.70" font-size="11.0" fill="#111">Sensitivity=96.6%</text>
<text x="412.80" y="351.00" font-size="11.0" fill="#111">Specificity=99.5%</text>
</g>
</svg>
</body></html>
